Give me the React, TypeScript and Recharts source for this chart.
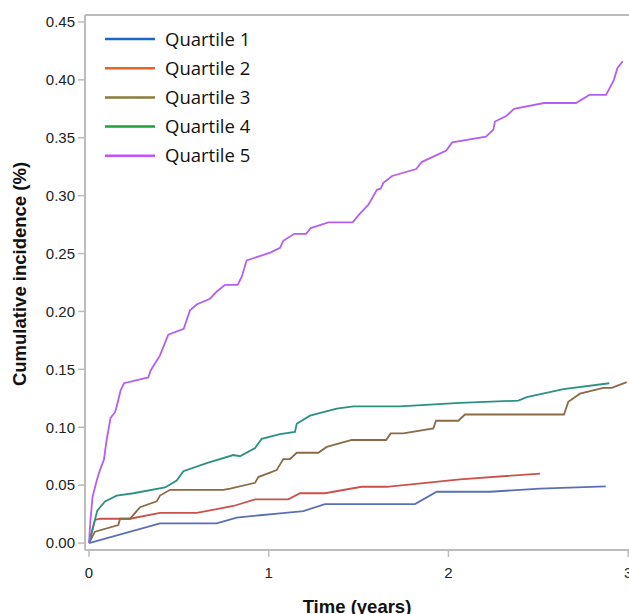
import React from 'react';
import { LineChart, Line, XAxis, YAxis, ReferenceLine, Customized } from 'recharts';

const seriesNames = ['Quartile 1', 'Quartile 2', 'Quartile 3', 'Quartile 4', 'Quartile 5'];
const lineColors = ['#5b6fb9', '#c9524c', '#8c6a43', '#2b9282', '#b35ff0'];
const legendColors = ['#1f66c9', '#e9622a', '#8a7b3e', '#1e9f3c', '#c650fc'];

const xTicks = [0, 1, 2, 3];
const yTicks = [0, 0.05, 0.1, 0.15, 0.2, 0.25, 0.3, 0.35, 0.4, 0.45];

const q1Time = [0, 0.395, 0.71, 0.822, 0.952, 1.063, 1.193, 1.313, 1.814, 1.935, 2.231, 2.51, 2.875];
const q1Value = [0, 0.017, 0.017, 0.022, 0.024, 0.0256, 0.0276, 0.0337, 0.0337, 0.0443, 0.0443, 0.047, 0.049];

const q2Time = [0, 0.02, 0.033, 0.061, 0.228, 0.395, 0.599, 0.803, 0.924, 1.109, 1.174, 1.313, 1.517, 1.657, 2.064, 2.51];
const q2Value = [0, 0.012, 0.02, 0.021, 0.021, 0.026, 0.026, 0.032, 0.0377, 0.0377, 0.043, 0.043, 0.0486, 0.0486, 0.055, 0.06];

const q3Time = [0, 0.02, 0.033, 0.163, 0.173, 0.228, 0.284, 0.377, 0.395, 0.451, 0.747, 0.785, 0.924, 0.942, 1.044, 1.081, 1.118, 1.156, 1.276, 1.323, 1.462, 1.653, 1.679, 1.749, 1.916, 1.931, 2.055, 2.092, 2.643, 2.667, 2.732, 2.862, 2.909, 2.992];
const q3Value = [0, 0.006, 0.0098, 0.0155, 0.021, 0.021, 0.031, 0.036, 0.041, 0.046, 0.046, 0.047, 0.052, 0.057, 0.063, 0.0725, 0.0725, 0.078, 0.078, 0.083, 0.089, 0.089, 0.0947, 0.0947, 0.099, 0.1056, 0.1056, 0.111, 0.111, 0.122, 0.129, 0.134, 0.134, 0.139];

const q4Time = [0, 0.028, 0.046, 0.089, 0.154, 0.247, 0.423, 0.488, 0.525, 0.655, 0.803, 0.84, 0.924, 0.961, 1.063, 1.146, 1.156, 1.23, 1.378, 1.471, 1.73, 2.064, 2.389, 2.436, 2.64, 2.895];
const q4Value = [0, 0.017, 0.028, 0.036, 0.041, 0.043, 0.048, 0.054, 0.062, 0.069, 0.076, 0.075, 0.082, 0.09, 0.094, 0.096, 0.103, 0.11, 0.116, 0.118, 0.118, 0.121, 0.123, 0.126, 0.133, 0.138];

const q5Time = [0, 0.008, 0.02, 0.043, 0.061, 0.083, 0.098, 0.12, 0.145, 0.154, 0.176, 0.195, 0.33, 0.343, 0.395, 0.441, 0.527, 0.562, 0.599, 0.673, 0.71, 0.757, 0.827, 0.85, 0.877, 1.012, 1.063, 1.081, 1.142, 1.208, 1.234, 1.332, 1.467, 1.505, 1.554, 1.602, 1.623, 1.638, 1.687, 1.821, 1.851, 1.988, 2.021, 2.209, 2.25, 2.259, 2.324, 2.365, 2.532, 2.71, 2.784, 2.877, 2.921, 2.94, 2.97];
const q5Value = [0, 0.02, 0.04, 0.054, 0.063, 0.072, 0.089, 0.108, 0.113, 0.118, 0.132, 0.138, 0.143, 0.149, 0.162, 0.18, 0.185, 0.201, 0.206, 0.211, 0.217, 0.223, 0.223, 0.23, 0.244, 0.251, 0.255, 0.261, 0.267, 0.267, 0.272, 0.277, 0.277, 0.284, 0.292, 0.305, 0.306, 0.311, 0.317, 0.323, 0.329, 0.339, 0.346, 0.351, 0.357, 0.364, 0.369, 0.375, 0.38, 0.38, 0.387, 0.387, 0.4, 0.41, 0.416];

const toRows = (t: number[], v: number[]) => t.map((x, i) => ({ t: x, v: v[i] }));
const seriesData = [
  toRows(q1Time, q1Value),
  toRows(q2Time, q2Value),
  toRows(q3Time, q3Value),
  toRows(q4Time, q4Value),
  toRows(q5Time, q5Value),
];

const AXIS_GRAY = '#bcbcbc';
const TICK_FONT = '"Liberation Sans", Arial, sans-serif';

const Overlay = () => (
  <g>
    {seriesNames.map((name, i) => {
      const y = 39 + i * 29.2;
      return (
        <g key={name}>
          <line x1={105} x2={155} y1={y} y2={y} stroke={legendColors[i]} strokeWidth={2.5} />
          <text x={165} y={y + 6.6} fontSize={18.5} fill="#111" fontFamily='"Open Sans", sans-serif'>
            {name}
          </text>
        </g>
      );
    })}
    <text x={357} y={612.5} textAnchor="middle" fontSize={18.5} fontWeight="bold" fill="#111" fontFamily={TICK_FONT}>
      Time (years)
    </text>
    <text
      x={26}
      y={274}
      transform="rotate(-90 26 274)"
      textAnchor="middle"
      fontSize={18.5}
      fontWeight="bold"
      fill="#111"
      fontFamily={TICK_FONT}
    >
      Cumulative incidence (%)
    </text>
  </g>
);

export default function App() {
  return (
    <div style={{ position: 'absolute', left: 0, top: 0, width: 629, height: 614, overflow: 'hidden', background: '#fff' }}>
      <LineChart width={660} height={614} margin={{ top: 15, right: 20, bottom: 0, left: 0 }}>
        <XAxis
          type="number"
          dataKey="t"
          domain={[-0.0223, 3.066]}
          ticks={xTicks}
          allowDataOverflow
          height={64}
          axisLine={{ stroke: AXIS_GRAY, strokeWidth: 2 }}
          tickLine={{ stroke: AXIS_GRAY, strokeWidth: 1.5 }}
          tickSize={7}
          tickMargin={10}
          tick={{ fontSize: 15, fill: '#222', fontFamily: TICK_FONT }}
        />
        <YAxis
          type="number"
          dataKey="v"
          domain={[-0.006, 0.456]}
          ticks={yTicks}
          allowDataOverflow
          width={85}
          axisLine={{ stroke: AXIS_GRAY, strokeWidth: 2 }}
          tickLine={{ stroke: AXIS_GRAY, strokeWidth: 1.5 }}
          tickSize={7}
          tickMargin={3}
          tickFormatter={(v: number) => v.toFixed(2)}
          tick={{ fontSize: 15, fill: '#222', fontFamily: TICK_FONT }}
        />
        <ReferenceLine y={0.456} stroke={AXIS_GRAY} strokeWidth={2} ifOverflow="visible" />
        {seriesData.map((data, i) => (
          <Line
            key={seriesNames[i]}
            data={data}
            dataKey="v"
            name={seriesNames[i]}
            type="linear"
            stroke={lineColors[i]}
            strokeWidth={1.8}
            dot={false}
            activeDot={false}
            isAnimationActive={false}
          />
        ))}
        <Customized component={Overlay} />
      </LineChart>
    </div>
  );
}
